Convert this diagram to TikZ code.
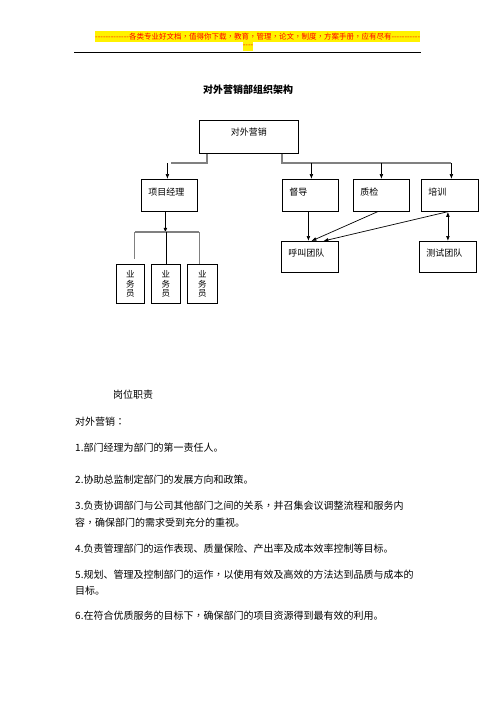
\documentclass[tikz,border=0pt]{standalone}
\usepackage{fontspec}
\setmainfont{Noto Sans CJK SC}
\newfontfamily\tcpunct{Noto Sans CJK TC}
\newcommand\pc[1]{{\tcpunct #1}}
\newcommand\dashrun[1]{\foreach \i in {1,...,#1}{-\kern0pt}}
\usetikzlibrary{arrows.meta,calc}
\begin{document}
\begin{tikzpicture}[x=1pt,y=-1pt,
  box/.style={draw, line width=0.8pt, inner ysep=0pt, font=\fontsize{9}{10}\selectfont},
  lbox/.style={box, align=left, inner xsep=7pt, anchor=north west},
  vbox/.style={draw, line width=0.8pt, inner sep=0pt, anchor=north west, align=center,
    font=\fontsize{8.5}{9.3}\selectfont},
  arr/.style={-{Latex[length=5pt,width=3.8pt]}, line width=0.7pt},
  dbl/.style={{Latex[length=5pt,width=3.8pt]}-{Latex[length=5pt,width=3.8pt]}, line width=0.7pt},
  bus/.style={draw=gray, line width=1.3pt},
  hdr/.style={text=red, inner sep=0pt, font=\fontsize{7.5}{8}\selectfont},
  body/.style={anchor=west, inner sep=0pt, font=\fontsize{10}{12}\selectfont, text=black}]
\useasboundingbox (0,0) rectangle (496,702);
% header
\fill[yellow] (95,31) rectangle (420,41.5);
\fill[yellow] (243,41.5) rectangle (253,51);
\node[hdr, anchor=west] (hdr1) at (95,36.5) {\dashrun{13}各类专业好文档\pc{，}值得你下载\pc{，}教育\pc{，}管理\pc{，}论文\pc{，}制度\pc{，}方案手册\pc{，}应有尽有\dashrun{11}};
\node[hdr] (hdr2) at (248,46.5) {\dashrun{4}};
\draw[line width=0.8pt] (74,52) -- (421,52);
% title
\node[inner sep=0pt, font=\fontsize{10}{12}\selectfont\bfseries] (title) at (248,90) {对外营销部组织架构};
% boxes
\node[box, anchor=north west, minimum width=99pt, minimum height=33pt, text height=7pt, text depth=9pt] (top) at (199,120) {对外营销};
\node[lbox, text width=42pt, minimum height=32pt, text height=7pt, text depth=6pt] (pm) at (141,179) {项目经理};
\node[lbox, text width=42pt, minimum height=32pt, text height=7pt, text depth=6pt] (sup) at (282,179) {督导};
\node[lbox, text width=42pt, minimum height=32pt, text height=7pt, text depth=6pt] (qc) at (353,179) {质检};
\node[lbox, text width=43pt, minimum height=32pt, text height=7pt, text depth=6pt] (trn) at (421,179) {培训};
\node[lbox, text width=43pt, minimum height=31pt, text height=7pt, text depth=7pt] (call) at (281,241) {呼叫团队};
\node[lbox, text width=43pt, minimum height=31pt, text height=7pt, text depth=7pt] (test) at (419,241) {测试团队};
\node[vbox, minimum width=28pt, minimum height=39pt] (s1) at (116,264) {业\\务\\员};
\node[vbox, minimum width=29pt, minimum height=39pt] (s2) at (151,264) {业\\务\\员};
\node[vbox, minimum width=30pt, minimum height=39pt] (s3) at (187,264) {业\\务\\员};
% upper connectors
\draw[bus] ($(top.south west)+(8,0)$) |- ($(pm.north)+(2,-16)$);
\draw[arr] ($(pm.north)+(-2,-16)$) -- ($(pm.north)+(-2,0)$);
\draw[bus] ($(top.south west)+(83,0)$) |- ($(trn.north)+(1.5,-16)$);
\draw[arr] ($(sup.north)+(1,-16)$) -- ($(sup.north)+(1,0)$);
\draw[arr] ($(qc.north)+(0,-16)$) -- (qc.north);
\draw[arr] ($(trn.north)+(1.5,-16)$) -- ($(trn.north)+(1.5,0)$);
% lower right connectors
\draw[arr] ($(sup.south)+(-2,0)$) -- ($(call.north)+(-1.5,0)$);
\draw[arr] ($(qc.south)+(-4,0)$) -- ($(call.north)+(1.5,0)$);
\draw[arr] ($(trn.south)+(-2.5,0)$) -- ($(call.north)+(13.5,0)$);
\draw[dbl] (test.north |- trn.south) -- (test.north);
% lower left connectors
\draw[arr] ($(pm.south)+(-4,0)$) -- ($(pm.south)+(-4,21)$);
\draw[bus] ($(s1.north)+(5,-32)$) -- ($(s3.north)+(-3,-32)$);
\draw[bus] ($(s1.north)+(4,-32)$) -- ($(s1.north)+(4,-5)$);
\draw[line width=0.8pt] ($(s2.north)+(0,-32)$) -- (s2.north);
\draw[bus] ($(s3.north)+(-3,-32)$) -- ($(s3.north)+(-3,0)$);
% body text
\node[body] (t0) at (113,395) {岗位职责};
\node[body] (t1) at (75,422) {对外营销\pc{：}};
\node[body] (t2) at (75,448) {1.部门经理为部门的第一责任人。};
\node[body] (t3) at (75,480) {2.协助总监制定部门的发展方向和政策。};
\node[body] (t4) at (75,506) {3.负责协调部门与公司其他部门之间的关系\pc{，}并召集会议调整流程和服务内};
\node[body] (t5) at (75,523) {容\pc{，}确保部门的需求受到充分的重视。};
\node[body] (t6) at (75,549) {4.负责管理部门的运作表现、质量保险、产出率及成本效率控制等目标。};
\node[body] (t7) at (75,575) {5.规划、管理及控制部门的运作\pc{，}以使用有效及高效的方法达到品质与成本的};
\node[body] (t8) at (75,591) {目标。};
\node[body] (t9) at (75,616) {6.在符合优质服务的目标下\pc{，}确保部门的项目资源得到最有效的利用。};
\end{tikzpicture}
\end{document}
